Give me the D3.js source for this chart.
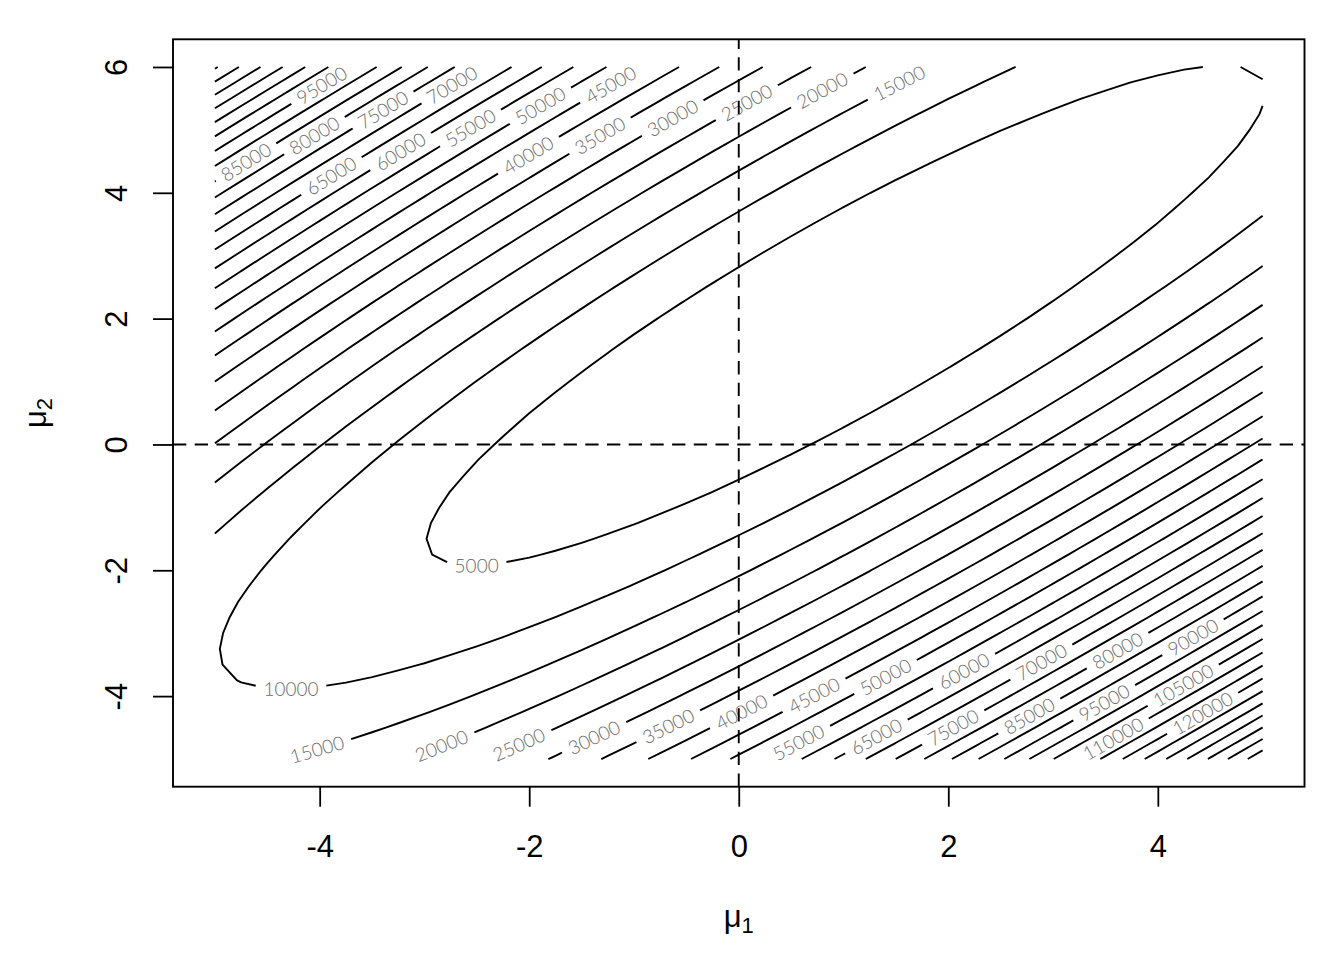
<!DOCTYPE html>
<html>
<head>
<meta charset="utf-8">
<script src="https://cdn.jsdelivr.net/npm/d3@7"></script>
<style>
  body { margin: 0; background: #fff; }
</style>
</head>
<body>
<div id="chart"></div>
<script>
// grid the surface is evaluated on
const mu1Range = [-5, 5]
const mu2Range = [-5, 6]
const gridStep = 0.25

// quadratic surface fitted to the contours in the picture:
// z = a*m1^2 + 2*b*m1*m2 + c*m2^2 + d*m1 + e*m2 + f
const surfaceCoef = [1309, -1184, 1328, 2155, -3001, 2887]

const levels = [5000, 10000, 15000, 20000, 25000, 30000, 35000, 40000, 45000, 50000,
  55000, 60000, 65000, 70000, 75000, 80000, 85000, 90000, 95000, 100000,
  105000, 110000, 115000, 120000, 125000, 130000, 135000, 140000, 145000, 150000]

const xTicks = [-4, -2, 0, 2, 4]
const yTicks = [-4, -2, 0, 2, 4, 6]
const refLines = { h: [0], v: [0] }

const plot = { left: 173, right: 1304.5, top: 39.3, bottom: 786.7 }

const svg = d3
  .select('#chart')
  .append('svg')
  .attr('width', 1344)
  .attr('height', 960)

// R pads the range by 4% on each side
const padX = 0.04 * (mu1Range[1] - mu1Range[0])
const padY = 0.04 * (mu2Range[1] - mu2Range[0])

const x = d3
  .scaleLinear()
  .domain([mu1Range[0] - padX, mu1Range[1] + padX])
  .range([plot.left, plot.right])

const y = d3
  .scaleLinear()
  .domain([mu2Range[0] - padY, mu2Range[1] + padY])
  .range([plot.bottom, plot.top])

function surface(m1, m2) {
  const [a, b, c, d, e, f] = surfaceCoef
  return a * m1 * m1 + 2 * b * m1 * m2 + c * m2 * m2 + d * m1 + e * m2 + f
}

const nx = Math.round((mu1Range[1] - mu1Range[0]) / gridStep) + 1
const ny = Math.round((mu2Range[1] - mu2Range[0]) / gridStep) + 1
const values = new Array(nx * ny)
for (let j = 0; j < ny; j++) {
  for (let i = 0; i < nx; i++) {
    values[j * nx + i] = surface(mu1Range[0] + i * gridStep, mu2Range[0] + j * gridStep)
  }
}

const contours = d3.contours().size([nx, ny]).thresholds(levels)(values)

// grid coords -> pixels (d3 puts sample i at i + 0.5)
function toPixel(p) {
  const m1 = mu1Range[0] + (p[0] - 0.5) * gridStep
  const m2 = mu2Range[0] + (p[1] - 0.5) * gridStep
  return [x(m1), y(m2)]
}

// cut the grid border out of each ring, keep the open contour lines
function ringToLines(ring) {
  const pts = ring.slice(0, -1)
  const onEdge = p => p[0] <= 0 || p[0] >= nx || p[1] <= 0 || p[1] >= ny
  const k = pts.findIndex(onEdge)
  if (k < 0) return [pts.concat([pts[0]])]
  const rot = pts.slice(k).concat(pts.slice(0, k))
  const lines = []
  let cur = []
  rot.forEach(p => {
    if (onEdge(p)) {
      if (cur.length > 1) lines.push(cur)
      cur = []
    } else {
      cur.push(p)
    }
  })
  if (cur.length > 1) lines.push(cur)
  return lines
}

function cumLength(pts) {
  const cum = [0]
  for (let i = 1; i < pts.length; i++) {
    cum.push(cum[i - 1] + Math.hypot(pts[i][0] - pts[i - 1][0], pts[i][1] - pts[i - 1][1]))
  }
  return cum
}

function pointAt(pts, cum, s) {
  let i = d3.bisectRight(cum, s) - 1
  i = Math.max(0, Math.min(pts.length - 2, i))
  const seg = cum[i + 1] - cum[i] || 1
  const t = (s - cum[i]) / seg
  return [pts[i][0] + t * (pts[i + 1][0] - pts[i][0]), pts[i][1] + t * (pts[i + 1][1] - pts[i][1])]
}

function subLine(pts, cum, s0, s1) {
  const out = [pointAt(pts, cum, s0)]
  for (let i = 0; i < pts.length; i++) {
    if (cum[i] > s0 && cum[i] < s1) out.push(pts[i])
  }
  out.push(pointAt(pts, cum, s1))
  return out
}

const labelFont = 'Lato, "DejaVu Sans", sans-serif'
const labelSize = 19
const labelGap = 8
const labelClear = 34 // height of the keep-out box around a label

// measure label widths
const measure = svg.append('text')
  .attr('font-family', labelFont)
  .attr('font-weight', 300)
  .attr('font-size', labelSize)
function textWidth(str) {
  measure.text(str)
  return measure.node().getComputedTextLength()
}

// rotated rectangle as its four corners
function rectOf(cx, cy, ang, w, h) {
  const c = Math.cos(ang)
  const s = Math.sin(ang)
  const hw = w / 2
  const hh = h / 2
  return [[-hw, -hh], [hw, -hh], [hw, hh], [-hw, hh]].map(([u, v]) => [cx + u * c - v * s, cy + u * s + v * c])
}

function project(poly, ax) {
  let lo = Infinity
  let hi = -Infinity
  poly.forEach(p => {
    const d = p[0] * ax[0] + p[1] * ax[1]
    if (d < lo) lo = d
    if (d > hi) hi = d
  })
  return [lo, hi]
}

function overlaps(a, b) {
  const axes = []
  ;[a, b].forEach(poly => {
    for (let i = 0; i < 2; i++) {
      const p = poly[i]
      const q = poly[i + 1]
      axes.push([-(q[1] - p[1]), q[0] - p[0]])
    }
  })
  return axes.every(ax => {
    const pa = project(a, ax)
    const pb = project(b, ax)
    return pa[0] < pb[1] && pb[0] < pa[1]
  })
}

const placed = []
const segments = []
const labels = []

contours.forEach(contour => {
  const str = String(contour.value)
  const tw = textWidth(str)
  const L = tw + 2 * labelGap
  contour.coordinates.forEach(polygon => {
    polygon.forEach(ring => {
      ringToLines(ring).forEach(line => {
        const pts = line.map(toPixel)
        const cum = cumLength(pts)
        const total = cum[cum.length - 1]
        let chosen = null
        if (total > L + 4) {
          // "flattest": most horizontal stretch of the line first
          const cands = []
          for (let s = L / 2; s <= total - L / 2; s += 1) {
            const p0 = pointAt(pts, cum, s - L / 2)
            const p1 = pointAt(pts, cum, s + L / 2)
            let ang = Math.atan2(p1[1] - p0[1], p1[0] - p0[0])
            if (ang > Math.PI / 2) ang -= Math.PI
            if (ang < -Math.PI / 2) ang += Math.PI
            cands.push({ s, ang, score: Math.abs(Math.sin(ang)) })
          }
          cands.sort((a, b) => a.score - b.score || a.s - b.s)
          for (const c of cands) {
            const p = pointAt(pts, cum, c.s)
            const box = rectOf(p[0], p[1], c.ang, L, labelClear)
            if (!placed.some(b => overlaps(b, box))) {
              chosen = { s: c.s, ang: c.ang, p }
              placed.push(box)
              break
            }
          }
        }
        if (chosen) {
          segments.push(subLine(pts, cum, 0, chosen.s - L / 2))
          segments.push(subLine(pts, cum, chosen.s + L / 2, total))
          labels.push({ text: str, x: chosen.p[0], y: chosen.p[1], angle: chosen.ang * 180 / Math.PI })
        } else {
          segments.push(pts)
        }
      })
    })
  })
})
measure.remove()

svg
  .append('g')
  .attr('class', 'contours')
  .selectAll('path')
  .data(segments.filter(seg => seg.length > 1))
  .enter()
  .append('path')
  .attr('d', d3.line())
  .attr('fill', 'none')
  .attr('stroke', '#000')
  .attr('stroke-width', 1.9)

svg
  .append('g')
  .attr('class', 'contour-labels')
  .selectAll('text')
  .data(labels)
  .enter()
  .append('text')
  .attr('transform', d => 'translate(' + d.x + ',' + d.y + ') rotate(' + d.angle + ')')
  .attr('text-anchor', 'middle')
  .attr('dy', '0.36em')
  .attr('font-family', labelFont)
  .attr('font-weight', 300)
  .attr('font-size', labelSize)
  .attr('fill', '#6a6a6a')
  .text(d => d.text)

// axes
const axisFont = '"Liberation Sans", Arial, Helvetica, sans-serif'

const xAxis = d3.axisBottom(x).tickValues(xTicks).tickSize(20).tickFormat(d => String(d))
svg
  .append('g')
  .attr('class', 'axis x-axis')
  .attr('transform', 'translate(0,' + plot.bottom + ')')
  .call(xAxis)
  .attr('font-size', 31)
  .attr('font-family', axisFont)

svg.selectAll('.x-axis text').attr('y', 70).attr('dy', null).attr('fill', '#000')

const yAxis = d3.axisLeft(y).tickValues(yTicks).tickSize(20).tickFormat(d => String(d))
svg
  .append('g')
  .attr('class', 'axis y-axis')
  .attr('transform', 'translate(' + plot.left + ',0)')
  .call(yAxis)
  .attr('font-size', 31)
  .attr('font-family', axisFont)

svg
  .selectAll('.y-axis text')
  .attr('x', null)
  .attr('dy', null)
  .attr('text-anchor', 'middle')
  .attr('transform', 'translate(-46,0) rotate(-90)')
  .attr('fill', '#000')

d3.selectAll('.axis .domain').remove()
d3.selectAll('.axis line').attr('stroke-width', 1.8)

// dashed reference lines
refLines.v.forEach(v => {
  svg.append('line')
    .attr('x1', x(v)).attr('x2', x(v))
    .attr('y1', plot.bottom).attr('y2', plot.top)
    .attr('stroke', '#000')
    .attr('stroke-width', 1.9)
    .attr('stroke-dasharray', '13.3,8.4')
})
refLines.h.forEach(h => {
  svg.append('line')
    .attr('x1', plot.left).attr('x2', plot.right)
    .attr('y1', y(h)).attr('y2', y(h))
    .attr('stroke', '#000')
    .attr('stroke-width', 1.9)
    .attr('stroke-dasharray', '13.3,8.4')
})

// box
svg.append('rect')
  .attr('x', plot.left)
  .attr('y', plot.top)
  .attr('width', plot.right - plot.left)
  .attr('height', plot.bottom - plot.top)
  .attr('fill', 'none')
  .attr('stroke', '#000')
  .attr('stroke-width', 1.9)

// axis titles
const xTitle = svg.append('text')
  .attr('x', (plot.left + plot.right) / 2)
  .attr('y', 927)
  .attr('text-anchor', 'middle')
  .attr('font-family', axisFont)
  .attr('font-size', 31)
xTitle.append('tspan').text('μ')
xTitle.append('tspan').attr('font-size', 22).attr('dy', 6).text('1')

const yTitle = svg.append('text')
  .attr('transform', 'translate(46,' + (plot.top + plot.bottom) / 2 + ') rotate(-90)')
  .attr('text-anchor', 'middle')
  .attr('font-family', axisFont)
  .attr('font-size', 31)
yTitle.append('tspan').text('μ')
yTitle.append('tspan').attr('font-size', 22).attr('dy', 6).text('2')
</script>
</body>
</html>
